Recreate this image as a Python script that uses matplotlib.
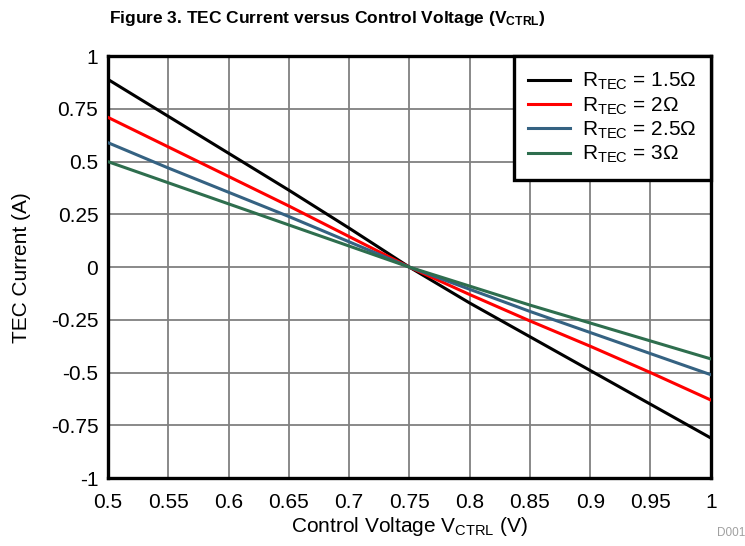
import matplotlib
matplotlib.use("Agg")
from matplotlib import pyplot as plt

plt.rcParams["font.family"] = ["Liberation Sans", "DejaVu Sans"]
plt.rcParams["mathtext.fontset"] = "custom"
plt.rcParams["mathtext.rm"] = "Liberation Sans"
plt.rcParams["mathtext.it"] = "Liberation Sans"
plt.rcParams["mathtext.bf"] = "Liberation Sans:bold"

# Control voltage (V)
vctrl = [0.5, 0.55, 0.6, 0.65, 0.7, 0.75, 0.8, 0.85, 0.9, 0.95, 1.0]

# TEC current (A) for each TEC resistance
i_r15 = [0.89, 0.715, 0.54, 0.365, 0.185, 0.0, -0.17, -0.33, -0.49, -0.65, -0.81]
i_r2 = [0.71, 0.57, 0.43, 0.29, 0.145, 0.0, -0.13, -0.255, -0.375, -0.50, -0.63]
i_r25 = [0.59, 0.47, 0.355, 0.24, 0.12, 0.0, -0.105, -0.21, -0.31, -0.41, -0.51]
i_r3 = [0.50, 0.40, 0.30, 0.20, 0.10, 0.0, -0.09, -0.18, -0.265, -0.35, -0.435]

labels = ["1.5", "2", "2.5", "3"]
colors = ["#000000", "#ff0000", "#356282", "#2e6e4e"]

xticks = [0.5, 0.55, 0.6, 0.65, 0.7, 0.75, 0.8, 0.85, 0.9, 0.95, 1]
xticklabels = ["0.5", "0.55", "0.6", "0.65", "0.7", "0.75", "0.8", "0.85", "0.9", "0.95", "1"]
yticks = [-1, -0.75, -0.5, -0.25, 0, 0.25, 0.5, 0.75, 1]
yticklabels = ["-1", "-0.75", "-0.5", "-0.25", "0", "0.25", "0.5", "0.75", "1"]

fig = plt.figure(figsize=(7.45, 5.46), dpi=100)
ax = fig.add_axes([0.145, 0.1245, 0.809, 0.7725])

for y, lab, c in zip([i_r15, i_r2, i_r25, i_r3], labels, colors):
    ax.plot(vctrl, y, color=c, linewidth=2.2, label=r"R$_{\mathrm{TEC}}$ = " + lab + "Ω", zorder=3)

ax.set_xlim(0.5, 1.0)
ax.set_ylim(-1, 1)
ax.set_xticks(xticks)
ax.set_xticklabels(xticklabels)
ax.set_yticks(yticks)
ax.set_yticklabels(yticklabels)
ax.tick_params(length=0, labelsize=15)
ax.tick_params(axis="x", pad=11)
ax.tick_params(axis="y", pad=7)
ax.grid(True, color="#808080", linewidth=1.3)
for s in ax.spines.values():
    s.set_linewidth(2.4)
    s.set_color("black")

ax.set_xlabel(r"Control Voltage V$_{\mathrm{CTRL}}$ (V)", fontsize=15)
ax.xaxis.set_label_coords(0.5, -0.088)
ax.set_ylabel("TEC Current (A)", fontsize=15)
ax.yaxis.set_label_coords(-0.127, 0.5)

leg = ax.legend(loc="upper right", fontsize=15, frameon=True, fancybox=False,
                handlelength=2.0, handletextpad=0.55, labelspacing=0.15,
                borderpad=0.7, borderaxespad=0.0)
leg.get_frame().set_edgecolor("black")
leg.get_frame().set_linewidth(2.4)
leg.get_frame().set_alpha(1)

fig.text(0.44, 0.966, r"Figure 3. TEC Current versus Control Voltage (V$_{\mathbf{CTRL}}$)",
         ha="center", va="center", fontsize=12.5, fontweight="bold")
fig.text(0.981, 0.024, "D001", ha="center", va="center", fontsize=8.5, color="#a0a0a0")

plt.savefig("out.png", dpi=100)
